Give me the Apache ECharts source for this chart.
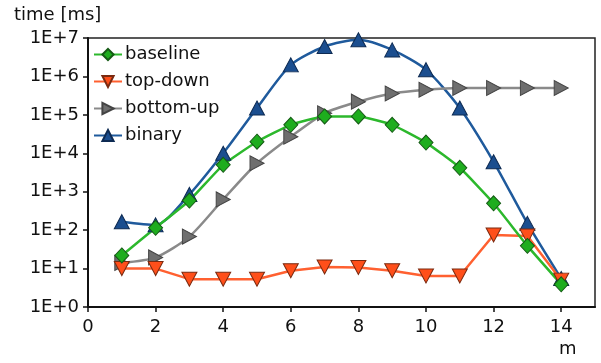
<!DOCTYPE html>
<html>
<head>
<meta charset="utf-8">
<script src="https://cdn.jsdelivr.net/npm/echarts@6/dist/echarts.min.js"></script>
<style>html,body{margin:0;padding:0;background:#fff}#c{width:601px;height:363px}</style>
</head>
<body>
<div id="c"></div>
<script>
var mValues = [1,2,3,4,5,6,7,8,9,10,11,12,13,14];
var baseline = [22,115,590,5000,20000,55000,91000,91000,55000,19000,4200,500,39,3.9];
var topDown = [10,10,5.3,5.3,5.3,8.8,11,10.7,8.8,6.4,6.4,75,70,5];
var bottomUp = [14,19.5,68,630,5500,27000,110000,220000,360000,450000,500000,500000,500000,500000];
var binary = [166,137,850,10000,150000,2000000,6000000,9000000,4900000,1500000,150000,6000,150,5.5];
var xTicks = [0,2,4,6,8,10,12,14];
var yTickLabels = ['1E+0','1E+1','1E+2','1E+3','1E+4','1E+5','1E+6','1E+7'];

function pairs(ys){ return mValues.map(function(x,i){ return [x, ys[i]]; }); }

var font = '"DejaVu Sans", "Liberation Sans", Arial, sans-serif';
var chart = echarts.init(document.getElementById('c'));
chart.setOption({
  animation: false,
  backgroundColor: '#fff',
  textStyle: { fontFamily: font },
  grid: { left: 88, right: 6, top: 38, bottom: 56, show: true, borderColor: '#222', borderWidth: 1.5, backgroundColor: 'transparent' },
  legend: {
    orient: 'vertical', left: 88, top: 40,
    itemWidth: 28, itemHeight: 14, itemGap: 8,
    data: ['baseline','top-down','bottom-up','binary'],
    textStyle: { fontSize: 18, color: '#111', fontFamily: font, lineHeight: 19, padding: [0,0,0,-2] }
  },
  graphic: [
    { type: 'text', left: 14, top: 6, style: { text: 'time [ms]', font: '18px ' + font, fill: '#111' } },
    { type: 'text', left: 559, top: 340, style: { text: 'm', font: '18px ' + font, fill: '#111' } }
  ],
  xAxis: {
    type: 'value', min: 0, max: 15, interval: 2,
    axisLine: { lineStyle: { color: '#111', width: 2 } },
    axisTick: { show: true, length: 5, inside: false, lineStyle: { color: '#111', width: 1.5 }, customValues: xTicks },
    axisLabel: { fontSize: 18, color: '#111', margin: 11, customValues: xTicks, fontFamily: font },
    splitLine: { show: false }
  },
  yAxis: {
    type: 'log', logBase: 10, min: 1, max: 10000000, interval: 1,
    axisLine: { show: true, lineStyle: { color: '#111', width: 2 } },
    axisTick: { show: true, length: 5, inside: false, lineStyle: { color: '#111', width: 1.5 } },
    axisLabel: { fontSize: 18, color: '#111', margin: 9, fontFamily: font,
      formatter: function(v){ var e = Math.round(Math.log10(v)); return yTickLabels[e]; } },
    splitLine: { show: false }
  },
  series: [
    { name: 'binary', type: 'line', data: pairs(binary), smooth: 0.25,
      symbol: 'triangle', symbolSize: [15,14],
      lineStyle: { color: '#1f5a9c', width: 2.5 },
      itemStyle: { color: '#1b4e8f', borderColor: '#0d2a52', borderWidth: 1 } },
    { name: 'bottom-up', type: 'line', data: pairs(bottomUp), smooth: 0.25,
      symbol: 'triangle', symbolSize: [15,14], symbolRotate: -90,
      lineStyle: { color: '#8a8a8a', width: 2.5 },
      itemStyle: { color: '#6e6e6e', borderColor: '#444', borderWidth: 1 } },
    { name: 'top-down', type: 'line', data: pairs(topDown), smooth: false,
      symbol: 'triangle', symbolSize: [15,14], symbolRotate: 180,
      lineStyle: { color: '#ff6030', width: 2.5 },
      itemStyle: { color: '#ff4f1a', borderColor: '#7a2a10', borderWidth: 1 } },
    { name: 'baseline', type: 'line', data: pairs(baseline), smooth: 0.15,
      symbol: 'diamond', symbolSize: [14,15],
      lineStyle: { color: '#2cb82c', width: 2.5 },
      itemStyle: { color: '#1ead1e', borderColor: '#155a15', borderWidth: 1 } }
  ]
});
</script>
</body>
</html>
